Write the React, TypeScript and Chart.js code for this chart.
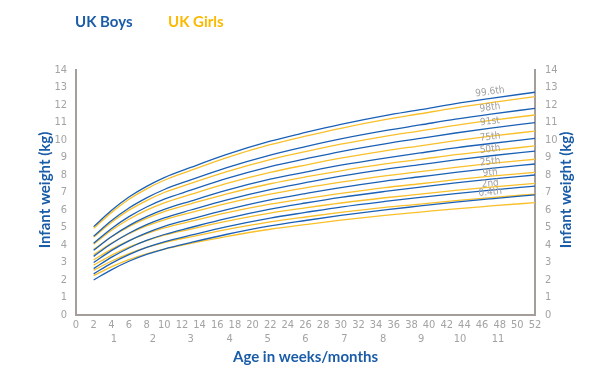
import { useEffect, useRef } from "react";
import { Chart, registerables } from "chart.js";
Chart.register(...registerables);

const weeks = [2, 4, 6, 8, 10, 13, 17, 22, 26, 30, 35, 39, 43, 47, 52];
const centileLabels = ["0.4th", "2nd", "9th", "25th", "50th", "75th", "91st", "98th", "99.6th"];

const boys0_4 = [2.0, 2.58, 3.07, 3.46, 3.77, 4.14, 4.6, 5.09, 5.4, 5.69, 6.01, 6.23, 6.45, 6.64, 6.86];
const boys2 = [2.35, 2.95, 3.45, 3.86, 4.18, 4.56, 5.04, 5.54, 5.86, 6.17, 6.49, 6.72, 6.94, 7.14, 7.37];
const boys9 = [2.65, 3.29, 3.83, 4.26, 4.6, 5.0, 5.51, 6.05, 6.4, 6.72, 7.06, 7.31, 7.55, 7.76, 8.0];
const boys25 = [3.0, 3.68, 4.24, 4.69, 5.06, 5.48, 6.01, 6.58, 6.94, 7.28, 7.65, 7.9, 8.15, 8.38, 8.63];
const boys50 = [3.35, 4.07, 4.67, 5.16, 5.55, 6.0, 6.57, 7.17, 7.56, 7.93, 8.32, 8.59, 8.86, 9.1, 9.37];
const boys75 = [3.7, 4.47, 5.11, 5.62, 6.03, 6.51, 7.12, 7.76, 8.17, 8.56, 8.97, 9.26, 9.55, 9.8, 10.09];
const boys91 = [4.1, 4.93, 5.62, 6.17, 6.62, 7.13, 7.79, 8.48, 8.92, 9.34, 9.78, 10.09, 10.4, 10.68, 10.99];
const boys98 = [4.5, 5.38, 6.11, 6.69, 7.17, 7.72, 8.41, 9.14, 9.62, 10.06, 10.53, 10.86, 11.19, 11.48, 11.81];
const boys99_6 = [5.05, 5.97, 6.74, 7.35, 7.85, 8.43, 9.16, 9.93, 10.43, 10.89, 11.39, 11.73, 12.08, 12.38, 12.73];

const girls0_4 = [2.25, 2.75, 3.17, 3.5, 3.77, 4.09, 4.48, 4.9, 5.17, 5.42, 5.69, 5.88, 6.07, 6.23, 6.42];
const girls2 = [2.55, 3.07, 3.51, 3.86, 4.14, 4.47, 4.88, 5.32, 5.6, 5.86, 6.15, 6.34, 6.54, 6.71, 6.91];
const girls9 = [2.85, 3.41, 3.88, 4.25, 4.56, 4.91, 5.35, 5.82, 6.12, 6.4, 6.7, 6.91, 7.12, 7.31, 7.52];
const girls25 = [3.15, 3.75, 4.25, 4.65, 4.98, 5.35, 5.83, 6.33, 6.65, 6.95, 7.28, 7.5, 7.73, 7.93, 8.15];
const girls50 = [3.45, 4.1, 4.65, 5.09, 5.44, 5.85, 6.37, 6.91, 7.27, 7.59, 7.95, 8.19, 8.44, 8.66, 8.9];
const girls75 = [3.75, 4.46, 5.05, 5.52, 5.91, 6.35, 6.91, 7.5, 7.89, 8.24, 8.63, 8.89, 9.16, 9.39, 9.66];
const girls91 = [4.05, 4.83, 5.47, 5.99, 6.41, 6.89, 7.51, 8.15, 8.57, 8.96, 9.38, 9.67, 9.96, 10.22, 10.51];
const girls98 = [4.45, 5.29, 5.99, 6.54, 7.0, 7.52, 8.18, 8.88, 9.34, 9.76, 10.21, 10.52, 10.84, 11.12, 11.43];
const girls99_6 = [4.95, 5.85, 6.61, 7.21, 7.7, 8.26, 8.98, 9.73, 10.22, 10.67, 11.16, 11.5, 11.84, 12.14, 12.48];

const boysSeries = [boys0_4, boys2, boys9, boys25, boys50, boys75, boys91, boys98, boys99_6];
const girlsSeries = [girls0_4, girls2, girls9, girls25, girls50, girls75, girls91, girls98, girls99_6];

const monthWeeks = [4.3, 8.7, 13.0, 17.4, 21.7, 26.0, 30.4, 34.8, 39.1, 43.5, 47.8];
const monthLabels = ["1", "2", "3", "4", "5", "6", "7", "8", "9", "10", "11"];

const BLUE = "#1a60b6";
const YELLOW = "#f9c02a";
const TITLE_BLUE = "#1a5ca8";
const TITLE_YELLOW = "#fbba00";
const GREY = "#a59d9a";
const TICK = "#a3a3a3";
const TICK_FONT = "'Liberation Sans Narrow', 'DejaVu Sans Condensed', sans-serif";
const TITLE_FONT = "Lato, 'Open Sans', sans-serif";

const labelIndex = 13;

const overlayPlugin = {
  id: "overlay",
  afterDatasetsDraw(chart: any) {
    const ctx = chart.ctx;
    ctx.save();
    ctx.fillStyle = "#a0a0a0";
    ctx.font = `10px ${TICK_FONT}`;
    ctx.textAlign = "center";
    ctx.textBaseline = "bottom";
    for (let i = 0; i < boysSeries.length; i++) {
      const meta = chart.getDatasetMeta(i);
      const p = meta.data[labelIndex];
      const a = meta.data[labelIndex - 1];
      const b = meta.data[labelIndex + 1];
      const ang = Math.atan2(b.y - a.y, b.x - a.x);
      ctx.save();
      ctx.translate(p.x, p.y);
      ctx.rotate(ang);
      ctx.fillText(centileLabels[i], 0, -1.5);
      ctx.restore();
    }
    ctx.restore();
  },
  afterDraw(chart: any) {
    const ctx = chart.ctx;
    const area = chart.chartArea;
    ctx.save();
    ctx.textBaseline = "middle";
    ctx.textAlign = "left";
    ctx.font = `bold 15px ${TITLE_FONT}`;
    ctx.fillStyle = TITLE_BLUE;
    ctx.fillText("UK Boys", 75, 22);
    ctx.fillStyle = TITLE_YELLOW;
    ctx.fillText("UK Girls", 168, 22);

    ctx.fillStyle = TITLE_BLUE;
    ctx.font = `bold 15px ${TITLE_FONT}`;
    ctx.textAlign = "center";
    ctx.fillText("Age in weeks/months", (area.left + area.right) / 2, 357);

    const midY = 190;
    ctx.save();
    ctx.translate(45, midY);
    ctx.rotate(-Math.PI / 2);
    ctx.fillText("Infant weight (kg)", 0, 0);
    ctx.restore();
    ctx.save();
    ctx.translate(566, midY);
    ctx.rotate(-Math.PI / 2);
    ctx.fillText("Infant weight (kg)", 0, 0);
    ctx.restore();
    ctx.restore();
  },
};

export default function App() {
  const ref = useRef<HTMLCanvasElement | null>(null);
  useEffect(() => {
    document.body.style.margin = "0";
    if (!ref.current) return;
    const datasets: any[] = [];
    boysSeries.forEach((s, i) =>
      datasets.push({
        label: "Boys " + centileLabels[i],
        data: weeks.map((w, j) => ({ x: w, y: s[j] })),
        borderColor: BLUE,
        borderWidth: 1.3,
        pointRadius: 0,
        cubicInterpolationMode: "monotone",
        fill: false,
      })
    );
    girlsSeries.forEach((s, i) =>
      datasets.push({
        label: "Girls " + centileLabels[i],
        data: weeks.map((w, j) => ({ x: w, y: s[j] })),
        borderColor: YELLOW,
        borderWidth: 1.3,
        pointRadius: 0,
        cubicInterpolationMode: "monotone",
        fill: false,
      })
    );
    const tickFont = { family: TICK_FONT, size: 11 };
    const chart = new Chart(ref.current, {
      type: "line",
      data: { datasets },
      plugins: [overlayPlugin],
      options: {
        animation: false,
        responsive: true,
        maintainAspectRatio: false,
        layout: { padding: { top: 70, left: 0, right: 0, bottom: 0 } },
        plugins: { legend: { display: false }, tooltip: { enabled: false } },
        scales: {
          x: {
            type: "linear",
            position: "bottom",
            min: 0,
            max: 52,
            grid: { display: false, drawTicks: false },
            border: { display: true, color: GREY, width: 2 },
            ticks: { stepSize: 2, autoSkip: false, maxRotation: 0, color: TICK, font: tickFont, padding: 4 },
            afterFit: (s: any) => { s.height = 18; },
          },
          x2: {
            type: "linear",
            position: "bottom",
            min: 0,
            max: 52,
            grid: { display: false, drawTicks: false },
            border: { display: false },
            afterBuildTicks: (s: any) => { s.ticks = monthWeeks.map((v) => ({ value: v })); },
            ticks: {
              autoSkip: false,
              maxRotation: 0,
              color: TICK,
              font: tickFont,
              padding: 0,
              callback: (_v: any, i: number) => monthLabels[i],
            },
            afterFit: (s: any) => { s.height = 40; },
          },
          y: {
            type: "linear",
            position: "left",
            min: 0,
            max: 14,
            grid: { display: false, drawTicks: false },
            border: { display: true, color: GREY, width: 2 },
            ticks: { stepSize: 1, color: TICK, font: tickFont, padding: 9 },
            afterFit: (s: any) => { s.width = 76; },
          },
          y2: {
            type: "linear",
            position: "right",
            min: 0,
            max: 14,
            grid: { display: false, drawTicks: false },
            border: { display: true, color: GREY, width: 2 },
            ticks: { stepSize: 1, color: TICK, font: tickFont, padding: 10 },
            afterFit: (s: any) => { s.width = 65; },
          },
        },
      } as any,
    });
    return () => chart.destroy();
  }, []);
  return (
    <div style={{ width: 600, height: 373, position: "relative" }}>
      <canvas ref={ref} />
    </div>
  );
}
